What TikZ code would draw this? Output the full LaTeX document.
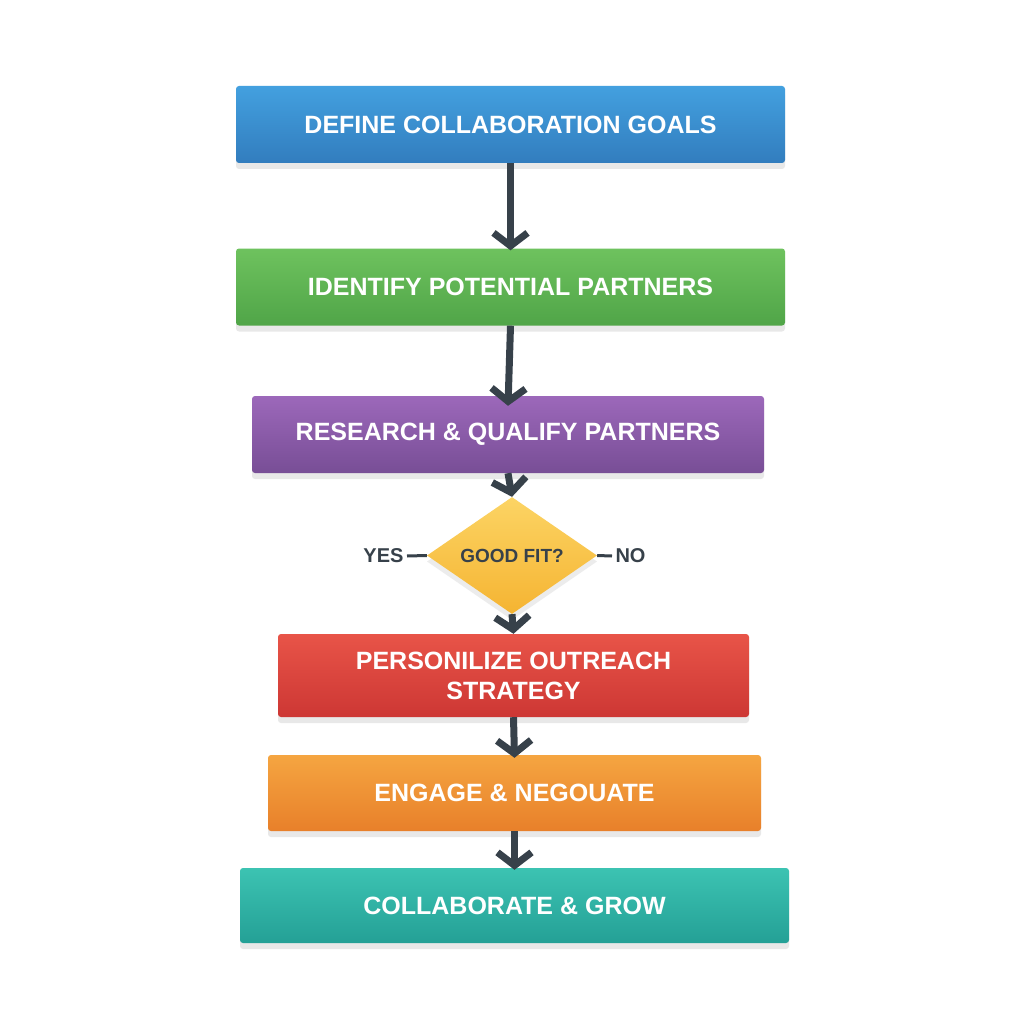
\documentclass[tikz,border=0pt]{standalone}
\usepackage{fontspec}
\setmainfont{Liberation Sans}
\usetikzlibrary{arrows.meta,shapes.geometric,shadows}
\definecolor{ink}{HTML}{37414A}
\begin{document}
\begin{tikzpicture}[x=1pt,y=-1pt,
  stepbox/.style={rounded corners=3pt,minimum height=77pt,text=white,font=\bfseries\fontsize{25}{30}\selectfont,align=center,
    drop shadow={opacity=0.18,shadow xshift=0pt,shadow yshift=-6pt}},
  conn/.style={draw=ink,line width=7pt,-{Straight Barb[length=13pt,width=34pt,line width=7pt]}},
  lab/.style={text=ink,font=\bfseries\fontsize{20}{24}\selectfont}]
\useasboundingbox[fill=white] (0,0) rectangle (1024,1024);
\node[stepbox,minimum width=549pt,top color=blue!10!cyan!55!blue!70!white!80!black,bottom color=blue!60!cyan!50!black!70!white,top color={rgb,255:red,67;green,160;blue,223},bottom color={rgb,255:red,50;green,125;blue,190}] (a) at (510.5,124.5) {DEFINE COLLABORATION GOALS};
\node[stepbox,minimum width=549pt,top color={rgb,255:red,110;green,194;blue,94},bottom color={rgb,255:red,80;green,165;blue,72}] (b) at (510.5,287) {IDENTIFY POTENTIAL PARTNERS};
\node[stepbox,minimum width=512pt,top color={rgb,255:red,156;green,104;blue,186},bottom color={rgb,255:red,120;green,78;blue,150}] (c) at (508,434.5) {RESEARCH \& QUALIFY PARTNERS};
\node[diamond,minimum width=170pt,minimum height=97pt,inner sep=0pt,top color={rgb,255:red,252;green,212;blue,100},bottom color={rgb,255:red,245;green,180;blue,50},text=ink,font=\bfseries\fontsize{19}{23}\selectfont,drop shadow={opacity=0.15,shadow xshift=0pt,shadow yshift=-6pt}] (d) at (512,555.5) {GOOD FIT?};
\node[stepbox,minimum width=471pt,minimum height=83pt,top color={rgb,255:red,232;green,84;blue,72},bottom color={rgb,255:red,205;green,55;blue,52}] (e) at (513.5,675.5) {PERSONILIZE OUTREACH\\STRATEGY};
\node[stepbox,minimum width=493pt,minimum height=76pt,top color={rgb,255:red,245;green,165;blue,65},bottom color={rgb,255:red,232;green,128;blue,42}] (f) at (514.5,793) {ENGAGE \& NEGOUATE};
\node[stepbox,minimum width=549pt,minimum height=75pt,top color={rgb,255:red,60;green,195;blue,178},bottom color={rgb,255:red,36;green,160;blue,150}] (g) at (514.5,905.5) {COLLABORATE \& GROW};
\draw[conn] (a.south) -- ([yshift=-2pt]b.north);
\draw[conn] (b.south) -- ([yshift=-10pt]c.north);
\draw[conn] (c.south) -- (d.north);
\draw[conn] (d.south) -- (e.north);
\draw[conn] (e.south) -- ([yshift=-3pt]f.north);
\draw[conn] (f.south) -- ([yshift=-2pt]g.north);
\node[lab,anchor=east] (yes) at (407,556) {YES};
\node[lab,anchor=west] (no) at (612,556) {NO};
\draw[ink,line width=3pt] (yes.east) -- (d.west);
\draw[ink,line width=3pt] (d.east) -- (no.west);
\end{tikzpicture}
\end{document}
